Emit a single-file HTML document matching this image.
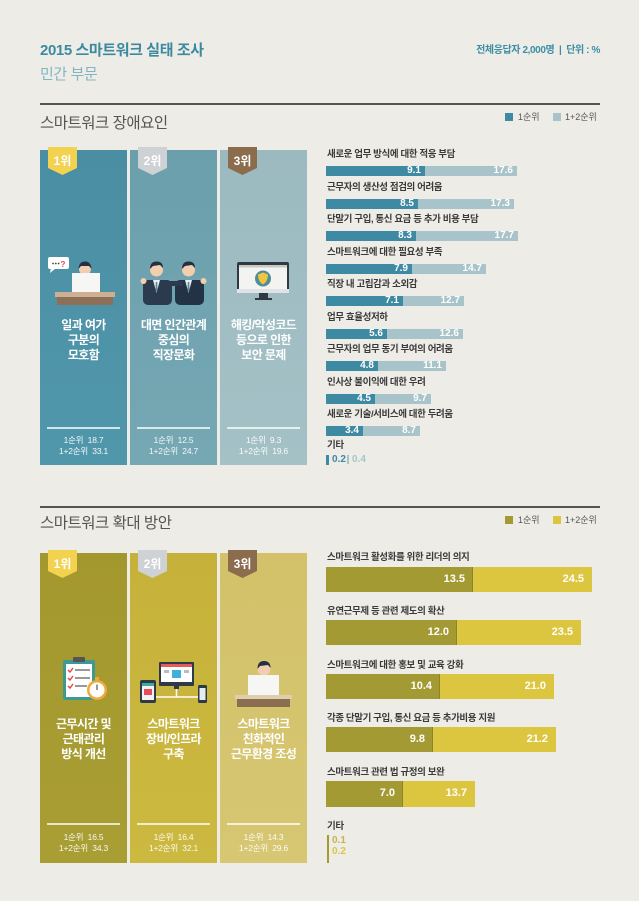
<!DOCTYPE html>
<html lang="ko">
<head>
<meta charset="utf-8">
<style>
  html,body{margin:0;padding:0;}
  body{width:639px;height:901px;overflow:hidden;position:relative;background:#eeece6;
       font-family:"Liberation Sans","Noto Sans CJK KR",sans-serif;}
  .a{position:absolute;white-space:nowrap;}
  .card{position:absolute;width:87px;}
  .ct{position:absolute;left:0;width:87px;text-align:center;color:#fff;font-weight:700;font-size:12px;line-height:15px;letter-spacing:-0.6px;}
  .sep{position:absolute;left:7px;width:73px;height:1.5px;background:rgba(255,255,255,0.75);}
  .st{position:absolute;left:0;width:87px;text-align:center;color:rgba(255,255,255,0.92);font-size:8.5px;line-height:10.5px;letter-spacing:-0.2px;}
  .lb{position:absolute;left:327px;font-size:9.5px;font-weight:700;color:#3a3a3a;line-height:12px;letter-spacing:-0.4px;white-space:nowrap;}
  .bar{position:absolute;}
  .v{position:absolute;color:#fff;font-weight:700;text-align:right;white-space:nowrap;}
</style>
</head>
<body>
<!-- header -->
<div class="a" style="left:40px;top:41px;font-size:15px;line-height:20px;font-weight:700;color:#3b8aa0;letter-spacing:-0.4px;">2015 스마트워크 실태 조사</div>
<div class="a" style="left:40px;top:65px;font-size:15px;line-height:20px;color:#82b5c3;letter-spacing:-0.4px;">민간 부문</div>
<div class="a" style="right:39px;top:45px;font-size:10px;line-height:12px;font-weight:700;color:#3b8ea6;letter-spacing:-0.4px;">전체응답자 2,000명 &nbsp;|&nbsp; 단위 : %</div>

<!-- section 1 header -->
<div class="a" style="left:40px;top:103px;width:560px;height:1.5px;background:#555;"></div>
<div class="a" style="left:40px;top:113px;font-size:15.5px;line-height:22px;color:#555;letter-spacing:-0.5px;">스마트워크 장애요인</div>
<div class="a" style="left:505px;top:113px;width:8px;height:8px;background:#3e8aa3;"></div>
<div class="a" style="left:518px;top:111px;font-size:9px;line-height:12px;color:#555;">1순위</div>
<div class="a" style="left:553px;top:113px;width:8px;height:8px;background:#a8c4ca;"></div>
<div class="a" style="left:565px;top:111px;font-size:9px;line-height:12px;color:#555;">1+2순위</div>

<!-- section 1 cards -->
<div class="card" style="left:40px;top:150px;height:315px;background:linear-gradient(#4a8ea3,#5197ab);">
  <div class="ct" style="top:168px;">일과 여가<br>구분의<br>모호함</div>
  <div class="sep" style="top:277px;"></div>
  <div class="st" style="top:285px;">1순위 &nbsp;18.7<br>1+2순위 &nbsp;33.1</div>
</div>
<div class="card" style="left:130px;top:150px;height:315px;background:linear-gradient(#6b9fac,#76a8b4);">
  <div class="ct" style="top:168px;">대면 인간관계<br>중심의<br>직장문화</div>
  <div class="sep" style="top:277px;"></div>
  <div class="st" style="top:285px;">1순위 &nbsp;12.5<br>1+2순위 &nbsp;24.7</div>
</div>
<div class="card" style="left:220px;top:150px;height:315px;background:linear-gradient(#9bbac0,#a4c1c6);">
  <div class="ct" style="top:168px;">해킹/악성코드<br>등으로 인한<br>보안 문제</div>
  <div class="sep" style="top:277px;"></div>
  <div class="st" style="top:285px;">1순위 &nbsp;9.3<br>1+2순위 &nbsp;19.6</div>
</div>

<!-- section 1 bars -->
<div class="lb" style="top:149px;">새로운 업무 방식에 대한 적응 부담</div>
<div class="bar" style="left:326px;top:166px;width:191px;height:10px;background:#a8c4ca;"></div>
<div class="bar" style="left:326px;top:166px;width:99px;height:10px;background:#3e8aa3;"></div>
<div class="v" style="left:326px;top:165px;width:95px;font-size:10px;line-height:12px;">9.1</div>
<div class="v" style="left:326px;top:165px;width:187px;font-size:10px;line-height:12px;">17.6</div>

<div class="lb" style="top:181.5px;">근무자의 생산성 점검의 어려움</div>
<div class="bar" style="left:326px;top:198.5px;width:188px;height:10px;background:#a8c4ca;"></div>
<div class="bar" style="left:326px;top:198.5px;width:92px;height:10px;background:#3e8aa3;"></div>
<div class="v" style="left:326px;top:197.5px;width:88px;font-size:10px;line-height:12px;">8.5</div>
<div class="v" style="left:326px;top:197.5px;width:184px;font-size:10px;line-height:12px;">17.3</div>

<div class="lb" style="top:214px;">단말기 구입, 통신 요금 등 추가 비용 부담</div>
<div class="bar" style="left:326px;top:231px;width:192px;height:10px;background:#a8c4ca;"></div>
<div class="bar" style="left:326px;top:231px;width:90px;height:10px;background:#3e8aa3;"></div>
<div class="v" style="left:326px;top:230px;width:86px;font-size:10px;line-height:12px;">8.3</div>
<div class="v" style="left:326px;top:230px;width:188px;font-size:10px;line-height:12px;">17.7</div>

<div class="lb" style="top:246.5px;">스마트워크에 대한 필요성 부족</div>
<div class="bar" style="left:326px;top:263.5px;width:160px;height:10px;background:#a8c4ca;"></div>
<div class="bar" style="left:326px;top:263.5px;width:86px;height:10px;background:#3e8aa3;"></div>
<div class="v" style="left:326px;top:262.5px;width:82px;font-size:10px;line-height:12px;">7.9</div>
<div class="v" style="left:326px;top:262.5px;width:156px;font-size:10px;line-height:12px;">14.7</div>

<div class="lb" style="top:279px;">직장 내 고립감과 소외감</div>
<div class="bar" style="left:326px;top:296px;width:138px;height:10px;background:#a8c4ca;"></div>
<div class="bar" style="left:326px;top:296px;width:77px;height:10px;background:#3e8aa3;"></div>
<div class="v" style="left:326px;top:295px;width:73px;font-size:10px;line-height:12px;">7.1</div>
<div class="v" style="left:326px;top:295px;width:134px;font-size:10px;line-height:12px;">12.7</div>

<div class="lb" style="top:311.5px;">업무 효율성저하</div>
<div class="bar" style="left:326px;top:328.5px;width:137px;height:10px;background:#a8c4ca;"></div>
<div class="bar" style="left:326px;top:328.5px;width:61px;height:10px;background:#3e8aa3;"></div>
<div class="v" style="left:326px;top:327.5px;width:57px;font-size:10px;line-height:12px;">5.6</div>
<div class="v" style="left:326px;top:327.5px;width:133px;font-size:10px;line-height:12px;">12.6</div>

<div class="lb" style="top:344px;">근무자의 업무 동기 부여의 어려움</div>
<div class="bar" style="left:326px;top:361px;width:120px;height:10px;background:#a8c4ca;"></div>
<div class="bar" style="left:326px;top:361px;width:52px;height:10px;background:#3e8aa3;"></div>
<div class="v" style="left:326px;top:360px;width:48px;font-size:10px;line-height:12px;">4.8</div>
<div class="v" style="left:326px;top:360px;width:116px;font-size:10px;line-height:12px;">11.1</div>

<div class="lb" style="top:376.5px;">인사상 불이익에 대한 우려</div>
<div class="bar" style="left:326px;top:393.5px;width:105px;height:10px;background:#a8c4ca;"></div>
<div class="bar" style="left:326px;top:393.5px;width:49px;height:10px;background:#3e8aa3;"></div>
<div class="v" style="left:326px;top:392.5px;width:45px;font-size:10px;line-height:12px;">4.5</div>
<div class="v" style="left:326px;top:392.5px;width:101px;font-size:10px;line-height:12px;">9.7</div>

<div class="lb" style="top:409px;">새로운 기술/서비스에 대한 두려움</div>
<div class="bar" style="left:326px;top:426px;width:94px;height:10px;background:#a8c4ca;"></div>
<div class="bar" style="left:326px;top:426px;width:37px;height:10px;background:#3e8aa3;"></div>
<div class="v" style="left:326px;top:425px;width:33px;font-size:10px;line-height:12px;">3.4</div>
<div class="v" style="left:326px;top:425px;width:90px;font-size:10px;line-height:12px;">8.7</div>

<div class="lb" style="top:440px;">기타</div>
<div class="bar" style="left:326px;top:455px;width:3px;height:10px;background:#3e8aa3;"></div>
<div class="a" style="left:332px;top:454px;font-size:10px;line-height:12px;font-weight:700;color:#3e8aa3;">0.2</div>
<div class="a" style="left:347px;top:455px;width:1.5px;height:9px;background:#a8c4ca;"></div>
<div class="a" style="left:352px;top:454px;font-size:10px;line-height:12px;font-weight:700;color:#a8c4ca;">0.4</div>

<!-- section 2 header -->
<div class="a" style="left:40px;top:506px;width:560px;height:1.5px;background:#555;"></div>
<div class="a" style="left:40px;top:513px;font-size:15.5px;line-height:22px;color:#555;letter-spacing:-0.5px;">스마트워크 확대 방안</div>
<div class="a" style="left:505px;top:516px;width:8px;height:8px;background:#a39a33;"></div>
<div class="a" style="left:518px;top:514px;font-size:9px;line-height:12px;color:#555;">1순위</div>
<div class="a" style="left:553px;top:516px;width:8px;height:8px;background:#dcc640;"></div>
<div class="a" style="left:565px;top:514px;font-size:9px;line-height:12px;color:#555;">1+2순위</div>

<!-- section 2 cards -->
<div class="card" style="left:40px;top:553px;height:310px;background:linear-gradient(#a3982e,#a99e34);">
  <div class="ct" style="top:164px;">근무시간 및<br>근태관리<br>방식 개선</div>
  <div class="sep" style="top:270px;"></div>
  <div class="st" style="top:279px;">1순위 &nbsp;16.5<br>1+2순위 &nbsp;34.3</div>
</div>
<div class="card" style="left:130px;top:553px;height:310px;background:linear-gradient(#c6b23a,#ccb940);">
  <div class="ct" style="top:164px;">스마트워크<br>장비/인프라<br>구축</div>
  <div class="sep" style="top:270px;"></div>
  <div class="st" style="top:279px;">1순위 &nbsp;16.4<br>1+2순위 &nbsp;32.1</div>
</div>
<div class="card" style="left:220px;top:553px;height:310px;background:linear-gradient(#d3c26a,#d7c672);">
  <div class="ct" style="top:164px;">스마트워크<br>친화적인<br>근무환경 조성</div>
  <div class="sep" style="top:270px;"></div>
  <div class="st" style="top:279px;">1순위 &nbsp;14.3<br>1+2순위 &nbsp;29.6</div>
</div>

<!-- section 2 bars -->
<div class="lb" style="top:552px;">스마트워크 활성화를 위한 리더의 의지</div>
<div class="bar" style="left:326px;top:567px;width:266px;height:25px;background:#dcc640;"></div>
<div class="bar" style="left:326px;top:567px;width:146px;height:25px;background:#a39a33;border-right:1px solid #8e852a;"></div>
<div class="v" style="left:326px;top:573px;width:139px;font-size:11px;line-height:13px;">13.5</div>
<div class="v" style="left:326px;top:573px;width:258px;font-size:11px;line-height:13px;">24.5</div>

<div class="lb" style="top:606px;">유연근무제 등 관련 제도의 확산</div>
<div class="bar" style="left:326px;top:620px;width:255px;height:25px;background:#dcc640;"></div>
<div class="bar" style="left:326px;top:620px;width:130px;height:25px;background:#a39a33;border-right:1px solid #8e852a;"></div>
<div class="v" style="left:326px;top:626px;width:123px;font-size:11px;line-height:13px;">12.0</div>
<div class="v" style="left:326px;top:626px;width:247px;font-size:11px;line-height:13px;">23.5</div>

<div class="lb" style="top:660px;">스마트워크에 대한 홍보 및 교육 강화</div>
<div class="bar" style="left:326px;top:674px;width:228px;height:25px;background:#dcc640;"></div>
<div class="bar" style="left:326px;top:674px;width:113px;height:25px;background:#a39a33;border-right:1px solid #8e852a;"></div>
<div class="v" style="left:326px;top:680px;width:106px;font-size:11px;line-height:13px;">10.4</div>
<div class="v" style="left:326px;top:680px;width:220px;font-size:11px;line-height:13px;">21.0</div>

<div class="lb" style="top:713px;">각종 단말기 구입, 통신 요금 등 추가비용 지원</div>
<div class="bar" style="left:326px;top:727px;width:230px;height:25px;background:#dcc640;"></div>
<div class="bar" style="left:326px;top:727px;width:106px;height:25px;background:#a39a33;border-right:1px solid #8e852a;"></div>
<div class="v" style="left:326px;top:733px;width:99px;font-size:11px;line-height:13px;">9.8</div>
<div class="v" style="left:326px;top:733px;width:222px;font-size:11px;line-height:13px;">21.2</div>

<div class="lb" style="top:767px;">스마트워크 관련 법 규정의 보완</div>
<div class="bar" style="left:326px;top:781px;width:149px;height:26px;background:#dcc640;"></div>
<div class="bar" style="left:326px;top:781px;width:76px;height:26px;background:#a39a33;border-right:1px solid #8e852a;"></div>
<div class="v" style="left:326px;top:787px;width:69px;font-size:11px;line-height:13px;">7.0</div>
<div class="v" style="left:326px;top:787px;width:141px;font-size:11px;line-height:13px;">13.7</div>

<div class="lb" style="top:821px;">기타</div>
<div class="bar" style="left:327px;top:835px;width:2px;height:28px;background:#a39a33;"></div>
<div class="a" style="left:332px;top:835px;font-size:10px;line-height:11px;font-weight:700;color:#c4b54e;">0.1</div>
<div class="a" style="left:332px;top:846px;font-size:10px;line-height:11px;font-weight:700;color:#dcc640;">0.2</div>

<!-- icons & badges -->
<svg class="a" style="left:0;top:0;" width="639" height="901" viewBox="0 0 639 901" xmlns="http://www.w3.org/2000/svg">
  <!-- badges section 1 -->
  <polygon points="48,147 77,147 77,168 62.5,175 48,168" fill="#f2d24f"/>
  <text x="62.5" y="165" font-size="12" font-weight="700" fill="#fff" text-anchor="middle" font-family="Liberation Sans, Noto Sans CJK KR, sans-serif">1위</text>
  <polygon points="138,147 167,147 167,168 152.5,175 138,168" fill="#ced2d5"/>
  <text x="152.5" y="165" font-size="12" font-weight="700" fill="#fff" text-anchor="middle" font-family="Liberation Sans, Noto Sans CJK KR, sans-serif">2위</text>
  <polygon points="228,147 257,147 257,168 242.5,175 228,168" fill="#8b6c4d"/>
  <text x="242.5" y="165" font-size="12" font-weight="700" fill="#fff" text-anchor="middle" font-family="Liberation Sans, Noto Sans CJK KR, sans-serif">3위</text>

  <!-- badges section 2 -->
  <polygon points="48,550 77,550 77,571 62.5,578 48,571" fill="#f2d24f"/>
  <text x="62.5" y="568" font-size="12" font-weight="700" fill="#fff" text-anchor="middle" font-family="Liberation Sans, Noto Sans CJK KR, sans-serif">1위</text>
  <polygon points="138,550 167,550 167,571 152.5,578 138,571" fill="#ced2d5"/>
  <text x="152.5" y="568" font-size="12" font-weight="700" fill="#fff" text-anchor="middle" font-family="Liberation Sans, Noto Sans CJK KR, sans-serif">2위</text>
  <polygon points="228,550 257,550 257,571 242.5,578 228,571" fill="#8b6c4d"/>
  <text x="242.5" y="568" font-size="12" font-weight="700" fill="#fff" text-anchor="middle" font-family="Liberation Sans, Noto Sans CJK KR, sans-serif">3위</text>

  <!-- S1 card1 icon: person with laptop + bubble -->
  <rect x="48" y="257" width="21" height="12" rx="2" fill="#fff"/>
  <polygon points="51,268 56,268 50,273" fill="#fff"/>
  <circle cx="53" cy="263.5" r="0.9" fill="#444"/>
  <circle cx="55.8" cy="263.5" r="0.9" fill="#444"/>
  <circle cx="58.6" cy="263.5" r="0.9" fill="#444"/>
  <text x="60.5" y="267" font-size="8" font-weight="700" fill="#d9534f" font-family="Liberation Sans, sans-serif">?</text>
  <rect x="74" y="276" width="24" height="17" fill="#2b3443"/>
  <circle cx="85" cy="269" r="6" fill="#f1cfae"/>
  <path d="M78.5,269 Q79,261.5 85,261.5 Q91,261.5 91.5,269 L89,266 L81,266 Z" fill="#263040"/>
  <rect x="72" y="273" width="28" height="20" fill="#f6f6f4"/>
  <rect x="55" y="292" width="60" height="5" fill="#cdb093"/>
  <rect x="57" y="297" width="56" height="8" fill="#8c6f56"/>

  <!-- S1 card2 icon: two businessmen -->
  <rect x="143" y="280" width="29" height="25" rx="5" fill="#2c3a50"/>
  <rect x="175" y="280" width="29" height="25" rx="5" fill="#243246"/>
  <rect x="165" y="281" width="18" height="5" fill="#2c3a50"/>
  <polygon points="153,280 160,280 156.5,293" fill="#e8eef0"/>
  <polygon points="185,280 192,280 188.5,293" fill="#e8eef0"/>
  <polygon points="155.7,282 157.3,282 157.5,290 156.5,292 155.5,290" fill="#5b8a9a"/>
  <polygon points="187.7,282 189.3,282 189.5,290 188.5,292 187.5,290" fill="#5b8a9a"/>
  <circle cx="156.5" cy="270" r="6.5" fill="#f1cfae"/>
  <circle cx="188.5" cy="270" r="6.5" fill="#f1cfae"/>
  <path d="M150,269 Q150,261.5 156.5,261.5 Q163,261.5 163,268 L160,265 L153,266 Z" fill="#263040"/>
  <path d="M182,269 Q182,261.5 188.5,261.5 Q195,261.5 195,268 L192,265 L185,266 Z" fill="#263040"/>
  <circle cx="143.5" cy="281" r="3" fill="#f1cfae"/>
  <circle cx="203.5" cy="281" r="3" fill="#f1cfae"/>

  <!-- S1 card3 icon: monitor with shield -->
  <rect x="237" y="262" width="52" height="31" rx="2" fill="#2f3944"/>
  <rect x="239" y="265" width="48" height="24" fill="#f3f3f1"/>
  <rect x="239" y="265" width="48" height="2.5" fill="#c9c9c2"/>
  <rect x="237" y="289" width="52" height="4" fill="#dfe3e5"/>
  <circle cx="263" cy="278.5" r="8" fill="#4f8d98"/>
  <path d="M263,272.5 L268,274.5 Q268,281.5 263,284.5 Q258,281.5 258,274.5 Z" fill="#efc53f"/>
  <rect x="259" y="293" width="9" height="5" fill="#2f3944"/>
  <rect x="255" y="298" width="17" height="2" fill="#2f3944"/>

  <!-- S2 card1 icon: clipboard + stopwatch -->
  <rect x="63" y="660" width="32" height="40" rx="2" fill="#3d9a93"/>
  <rect x="66" y="664" width="26" height="33" fill="#fff"/>
  <rect x="73" y="657" width="12" height="5" rx="1" fill="#555"/>
  <path d="M68,670 l2,2 l3,-4" stroke="#e0453f" stroke-width="1.4" fill="none"/>
  <path d="M68,678 l2,2 l3,-4" stroke="#e0453f" stroke-width="1.4" fill="none"/>
  <path d="M68,686 l2,2 l3,-4" stroke="#e0453f" stroke-width="1.4" fill="none"/>
  <rect x="75" y="669" width="15" height="2" fill="#999"/>
  <rect x="75" y="677" width="15" height="2" fill="#999"/>
  <rect x="75" y="685" width="12" height="2" fill="#999"/>
  <rect x="95" y="677" width="4" height="3" fill="#f2a93b"/>
  <circle cx="97" cy="690" r="10" fill="#f2a93b"/>
  <circle cx="97" cy="690" r="7.5" fill="#fff"/>
  <line x1="97" y1="690" x2="97" y2="684.5" stroke="#555" stroke-width="1.2"/>

  <!-- S2 card2 icon: devices -->
  <line x1="156" y1="697" x2="198" y2="697" stroke="#fff" stroke-width="1.5"/>
  <line x1="176.5" y1="689" x2="176.5" y2="697" stroke="#fff" stroke-width="1.5"/>
  <rect x="159" y="662" width="35" height="24" rx="1" fill="#2e3a47"/>
  <rect x="161" y="664" width="31" height="18" fill="#fff"/>
  <rect x="161" y="664" width="31" height="3" fill="#e35b5b"/>
  <rect x="172" y="670" width="9" height="8" fill="#3fb0d8"/>
  <rect x="164" y="670" width="5" height="3" fill="#bbb"/>
  <rect x="184" y="670" width="5" height="3" fill="#bbb"/>
  <rect x="174" y="686" width="5" height="3" fill="#2e3a47"/>
  <rect x="140" y="680" width="16" height="23" rx="2" fill="#2e3a47"/>
  <rect x="142" y="683" width="12" height="17" fill="#f2f2f2"/>
  <rect x="142" y="683" width="12" height="3" fill="#3fa9a4"/>
  <rect x="144" y="689" width="8" height="6" fill="#e84c5a"/>
  <rect x="198" y="685" width="9" height="18" rx="1.5" fill="#2e3a47"/>
  <rect x="199.5" y="688" width="6" height="12" fill="#e9ecee"/>

  <!-- S2 card3 icon: person with laptop -->
  <rect x="249" y="678" width="30" height="17" fill="#2b3443"/>
  <circle cx="264" cy="669" r="6.5" fill="#f1cfae"/>
  <path d="M257.5,669 Q257.5,661 264,661 Q270.5,661 270.5,668 L268,665 L260,666 Z" fill="#263040"/>
  <rect x="248" y="675" width="31" height="20" fill="#f6f6f4"/>
  <rect x="235" y="695" width="57" height="4" fill="#e0cfae"/>
  <rect x="237" y="699" width="53" height="8" fill="#8a6e4f"/>
</svg>
</body>
</html>
